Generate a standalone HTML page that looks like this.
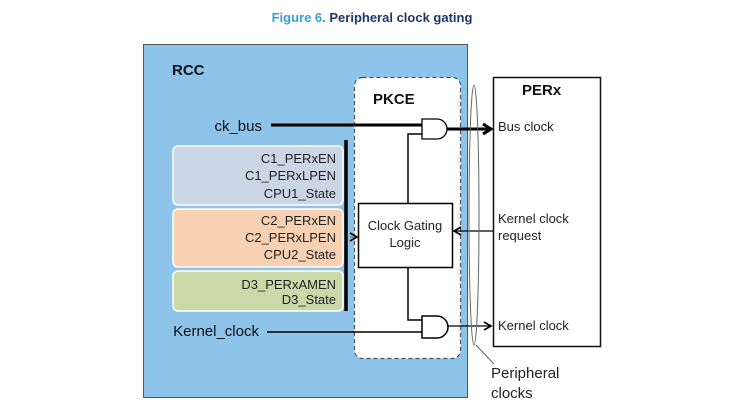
<!DOCTYPE html>
<html><head><style>
body{margin:0;background:#fff;width:744px;height:415px;overflow:hidden}
svg text{font-family:"Liberation Sans",Arial,sans-serif}
</style></head><body>
<svg width="744" height="415" viewBox="0 0 744 415" xmlns="http://www.w3.org/2000/svg">
<defs>
<marker id="ah" markerWidth="10" markerHeight="10" refX="8" refY="5" orient="auto" markerUnits="userSpaceOnUse"><path d="M1,1 L8,5 L1,9" fill="none" stroke="#000" stroke-width="1.6"/></marker>
<marker id="ahb" markerWidth="12" markerHeight="12" refX="9" refY="6" orient="auto" markerUnits="userSpaceOnUse"><path d="M1,1 L9,6 L1,11" fill="none" stroke="#000" stroke-width="3"/></marker>
</defs>
<text x="372" y="22" text-anchor="middle" font-size="13" font-weight="bold"><tspan fill="#3a9fd9">Figure 6. </tspan><tspan fill="#1f3864">Peripheral clock gating</tspan></text>
<rect x="143.5" y="44.5" width="324" height="353" fill="#8ec3ea" stroke="#555" stroke-width="1"/>
<text x="172" y="75" font-size="15" font-weight="bold" fill="#111">RCC</text>
<rect x="354.5" y="77.5" width="106" height="281" rx="8" fill="#fff" stroke="#555" stroke-width="1.2" stroke-dasharray="4,3"/>
<text x="373" y="104" font-size="15" font-weight="bold" fill="#111">PKCE</text>
<rect x="493.5" y="77.5" width="107" height="269" fill="#fff" stroke="#111" stroke-width="1.5"/>
<text x="522" y="95" font-size="15" font-weight="bold" fill="#111">PERx</text>
<rect x="173" y="146" width="170" height="59" rx="5" fill="#cad6e6" stroke="#fff" stroke-width="1.5"/>
<rect x="173" y="209" width="170" height="58" rx="5" fill="#f8d0b2" stroke="#fff" stroke-width="1.5"/>
<rect x="173" y="271" width="170" height="40" rx="5" fill="#cbd9a9" stroke="#fff" stroke-width="1.5"/>
<g font-size="13" fill="#222" text-anchor="end">
<text x="336" y="163">C1_PERxEN</text><text x="336" y="180">C1_PERxLPEN</text><text x="336" y="198">CPU1_State</text>
<text x="336" y="225">C2_PERxEN</text><text x="336" y="242">C2_PERxLPEN</text><text x="336" y="259">CPU2_State</text>
<text x="336" y="289">D3_PERxAMEN</text><text x="336" y="304">D3_State</text>
</g>
<line x1="346" y1="140" x2="346" y2="311" stroke="#000" stroke-width="3.5"/>
<line x1="350" y1="237" x2="357" y2="237" stroke="#777" stroke-width="1" marker-end="url(#ah)"/>
<text x="262" y="131" font-size="15" text-anchor="end" fill="#111">ck_bus</text>
<text x="259" y="336" font-size="15" text-anchor="end" fill="#111">Kernel_clock</text>
<line x1="271" y1="125" x2="423" y2="125" stroke="#000" stroke-width="3"/>
<line x1="267" y1="332" x2="423" y2="332" stroke="#000" stroke-width="1.5"/>
<path d="M422,119 H437 A10,10 0 0 1 437,139 H422 Z" fill="#fff" stroke="#000" stroke-width="1.3"/>
<path d="M422,316 H437 A11,11 0 0 1 437,338 H422 Z" fill="#fff" stroke="#000" stroke-width="1.5"/>
<polyline points="422,134 408,134 408,204" fill="none" stroke="#000" stroke-width="1.5"/>
<polyline points="408,267 408,320 422,320" fill="none" stroke="#000" stroke-width="1.5"/>
<rect x="358.5" y="203.5" width="94" height="64" fill="#fff" stroke="#000" stroke-width="1.5"/>
<text x="405" y="230" font-size="13" text-anchor="middle" fill="#222">Clock Gating</text>
<text x="405" y="247" font-size="13" text-anchor="middle" fill="#222">Logic</text>
<line x1="447" y1="129" x2="491" y2="129" stroke="#000" stroke-width="3" marker-end="url(#ahb)"/>
<line x1="447" y1="326" x2="491" y2="326" stroke="#000" stroke-width="1.3" marker-end="url(#ah)"/>
<line x1="493" y1="231" x2="454" y2="231" stroke="#000" stroke-width="1.3" marker-end="url(#ah)"/>
<ellipse cx="474" cy="215" rx="5" ry="130" fill="none" stroke="#666" stroke-width="1"/>
<line x1="476" y1="345" x2="494" y2="364" stroke="#666" stroke-width="1"/>
<g font-size="13" fill="#222">
<text x="498" y="131">Bus clock</text>
<text x="498" y="223">Kernel clock</text><text x="498" y="240">request</text>
<text x="498" y="330">Kernel clock</text>
</g>
<text x="491" y="378" font-size="15" fill="#222">Peripheral</text>
<text x="491" y="398" font-size="15" fill="#222">clocks</text>
</svg>
</body></html>
